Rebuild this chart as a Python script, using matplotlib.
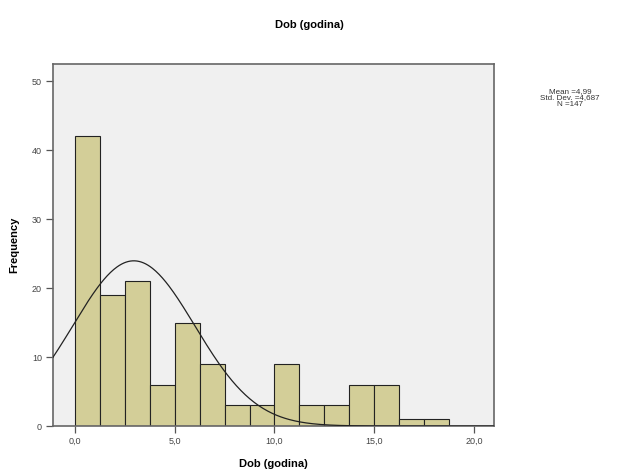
import numpy as np
import matplotlib
matplotlib.use("Agg")
import matplotlib.pyplot as plt

plt.rcParams["font.family"] = ["Liberation Sans", "DejaVu Sans"]

# histogram data (15 bins, width 1.25)
bin_edges = [0.0, 1.25, 2.5, 3.75, 5.0, 6.25, 7.5, 8.75, 10.0, 11.25,
             12.5, 13.75, 15.0, 16.25, 17.5, 18.75]
counts = [42, 19, 21, 6, 15, 9, 3, 3, 9, 3, 3, 6, 6, 1, 1]

# normal curve as drawn in the chart
curve_mean = 2.95
curve_sd = 3.06
n_total = 147

x_ticks = [0, 5, 10, 15, 20]
x_tick_labels = ["0,0", "5,0", "10,0", "15,0", "20,0"]
y_ticks = [0, 10, 20, 30, 40, 50]

stats_text = "Mean =4,99\nStd. Dev. =4,687\nN =147"

fig = plt.figure(figsize=(6.18, 4.73), dpi=100)
ax = fig.add_axes([53 / 618, 1 - 426 / 473, (494 - 53) / 618, (426 - 64) / 473])
ax.set_facecolor("#f0f0f0")

edges = np.array(bin_edges)
ax.bar(edges[:-1], counts, width=np.diff(edges), align="edge",
       color="#d3ce98", edgecolor="#222222", linewidth=0.8, zorder=2)

xs = np.linspace(-1.1, 21, 400)
bw = edges[1] - edges[0]
ys = n_total * bw / (curve_sd * np.sqrt(2 * np.pi)) * np.exp(-(xs - curve_mean) ** 2 / (2 * curve_sd ** 2))
ax.plot(xs, ys, color="#222222", linewidth=0.9, zorder=3)

ax.set_xlim(-1.1, 21)
ax.set_ylim(0, 52.5)
ax.set_xticks(x_ticks)
ax.set_xticklabels(x_tick_labels)
ax.set_yticks(y_ticks)
ax.tick_params(direction="out", length=5, width=0.9, color="#555555",
               labelsize=6.5, labelcolor="#444444", pad=3)
for s in ax.spines.values():
    s.set_color("#666666")
    s.set_linewidth(1.2)

ax.set_xlabel("Dob (godina)", fontsize=8, fontweight="bold", labelpad=9)
ax.set_ylabel("Frequency", fontsize=8, fontweight="bold", labelpad=9)
fig.text(0.5, 1 - 25 / 473, "Dob (godina)", ha="center", va="center",
         fontsize=8, fontweight="bold")
fig.text(570 / 618, 1 - 98 / 473, stats_text, ha="center", va="center",
         fontsize=5.8, linespacing=0.95, color="#333333")

fig.savefig("out.png", dpi=100)
